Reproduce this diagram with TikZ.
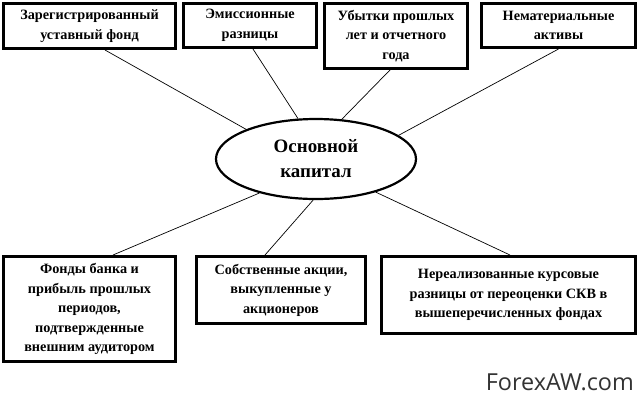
\documentclass[tikz,border=0pt]{standalone}
\usepackage{fontspec}
\setmainfont{Liberation Serif}
\newfontfamily\wmfont{Open Sans}
\usetikzlibrary{shapes.geometric}
\begin{document}
\begin{tikzpicture}[x=1bp,y=-1bp,
  boxnode/.style={draw=black,line width=3bp,inner sep=0pt,align=center,
    font=\bfseries\fontsize{14.3}{19.5}\selectfont},
  ovalnode/.style={ellipse,draw=black,line width=2.2bp,inner sep=0pt,align=center,
    minimum width=200bp,minimum height=80bp,font=\bfseries\fontsize{19}{25}\selectfont},
  link/.style={line width=0.7bp}]
\useasboundingbox (0,0) rectangle (639,401);
\fill[white] (0,0) rectangle (639,401);
\node[boxnode,minimum width=172bp,minimum height=45bp] (b1) at (89.5,26) {Зарегистрированный\\уставный фонд};
\node[boxnode,minimum width=133bp,minimum height=44bp] (b2) at (250,25.5) {Эмиссионные\\разницы};
\node[boxnode,minimum width=143bp,minimum height=65bp] (b3) at (396,36) {Убытки прошлых\\лет и отчетного\\года};
\node[boxnode,minimum width=154bp,minimum height=44bp] (b4) at (558.5,25.5) {Нематериальные\\активы};
\node[boxnode,minimum width=172bp,minimum height=105bp] (b5) at (89.5,309) {Фонды банка и\\прибыль прошлых\\периодов,\\подтвержденные\\внешним аудитором};
\node[boxnode,minimum width=169bp,minimum height=67bp] (b6) at (281,290) {Собственные акции,\\выкупленные у\\акционеров};
\node[boxnode,minimum width=254bp,minimum height=77bp] (b7) at (508.5,295) {Нереализованные курсовые\\разницы от переоценки СКВ в\\вышеперечисленных фондах};
\node[ovalnode] (ell) at (316,159) {Основной\\капитал};
\draw[link] ([xshift=15.5bp]b1.south) -- (ell.157);
\draw[link] ([xshift=3bp]b2.south) -- (ell.114);
\draw[link] ([xshift=-6bp]b3.south) -- (ell.57);
\draw[link] (b4.south) -- (ell.16);
\draw[link] ([xshift=23.5bp]b5.north) -- (ell.211);
\draw[link] ([xshift=-16bp]b6.north) -- (ell.266);
\draw[link] ([xshift=1.5bp]b7.north) -- (ell.331);
\node[font=\wmfont\fontsize{23.5}{26}\selectfont,text=black!80,anchor=east,inner sep=0pt] (wm) at (634,382) {ForexAW.com};
\end{tikzpicture}
\end{document}
